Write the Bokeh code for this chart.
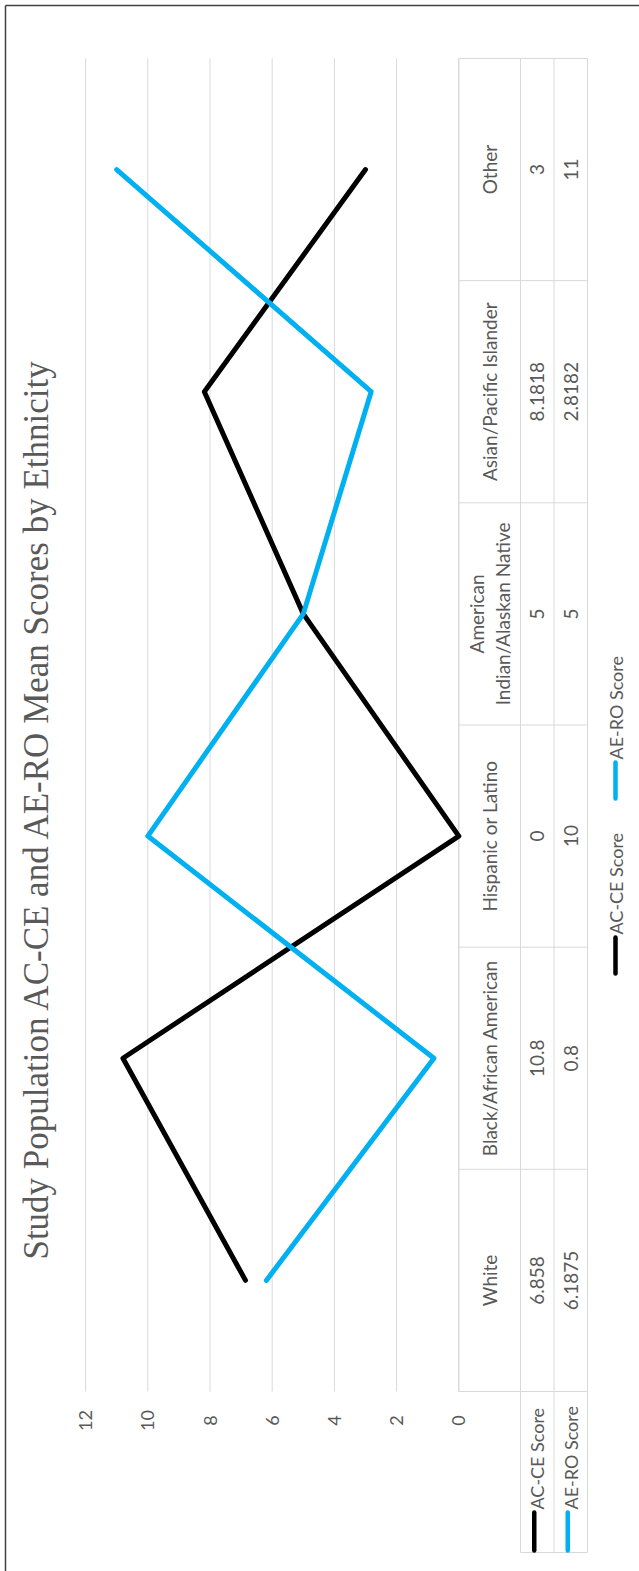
import math
from bokeh.plotting import figure
from bokeh.models import Range1d
from bokeh.core.properties import value
from bokeh.embed import file_html
from bokeh.resources import INLINE

# ---- data -------------------------------------------------------------
categories = ["White", "Black/African American", "Hispanic or Latino",
              "American Indian/Alaskan Native", "Asian/Pacific Islander", "Other"]
category_labels = ["White", "Black/African American", "Hispanic or Latino",
                   "American\nIndian/Alaskan Native", "Asian/Pacific Islander", "Other"]
ac_ce = [6.858, 10.8, 0, 5, 8.1818, 3]
ae_ro = [6.1875, 0.8, 10, 5, 2.8182, 11]
series_names = ["AC-CE Score", "AE-RO Score"]
tick_values = [0, 2, 4, 6, 8, 10, 12]
title_text = "Study Population AC-CE and AE-RO Mean Scores by Ethnicity"

# ---- styling ----------------------------------------------------------
W, H = 639, 1571
BLACK = "#000000"
BLUE = "#00b0f0"
GREY_TEXT = "#595959"
GRID = "#d9d9d9"
SANS = "Lato"
SERIF = "Liberation Serif"
UP = math.pi / 2  # text reads bottom-to-top

# value axis runs right-to-left (0 at px 458.3, 31.1 px per unit);
# categories run bottom-to-top (index 0 at px 1279.9, 222.17 px per step)
x0_px, x_unit = 458.3, 31.1
y0_px, y_unit = 1279.9, 222.17
x_range = Range1d((x0_px - 0) / x_unit, (x0_px - W) / x_unit)
y_range = Range1d((y0_px - H) / y_unit, y0_px / y_unit)

p = figure(width=W, height=H, x_range=x_range, y_range=y_range,
           output_backend="svg", toolbar_location=None, min_border=0,
           x_axis_location=None, y_axis_location=None)
p.outline_line_color = None
p.grid.visible = False
p.background_fill_color = "white"
p.border_fill_color = "white"
p.extra_x_ranges = {"px": Range1d(0, W)}
p.extra_y_ranges = {"px": Range1d(H, 0)}

n = len(categories)
idx = list(range(n))
top_i, bot_i = n - 0.5, -0.5

# outer frame (top and left edges)
p.segment(x0=[5, 5], y0=[5, 5], x1=[W, 5], y1=[5, H],
          x_range_name="px", y_range_name="px",
          line_color="#404040", line_width=1.5)

# value gridlines
p.segment(x0=tick_values, y0=[bot_i] * len(tick_values),
          x1=tick_values, y1=[top_i] * len(tick_values),
          line_color=GRID, line_width=1)

# tick labels under the gridlines
p.text(x=tick_values, y=[1420] * len(tick_values),
       text=[str(t) for t in tick_values], y_range_name="px",
       angle=UP, text_align="center", text_baseline="middle",
       text_font=value(SANS), text_font_size="18px", text_color=GREY_TEXT)

# data table: column dividers and row dividers
col_px = [458.3, 520, 553.5, 587]
p.segment(x0=col_px, y0=[bot_i] * 4, x1=col_px, y1=[top_i] * 4,
          x_range_name="px", line_color=GRID, line_width=1)
bounds = [i - 0.5 for i in range(n + 1)]
p.segment(x0=[col_px[0]] * len(bounds), y0=bounds,
          x1=[col_px[-1]] * len(bounds), y1=bounds,
          x_range_name="px", line_color=GRID, line_width=1)

# legend cells below the table
p.segment(x0=col_px[1:], y0=[1391] * 3, x1=col_px[1:], y1=[1552] * 3,
          x_range_name="px", y_range_name="px", line_color=GRID, line_width=1)
p.segment(x0=[col_px[1]], y0=[1552], x1=[col_px[-1]], y1=[1552],
          x_range_name="px", y_range_name="px", line_color=GRID, line_width=1)

# table texts
name_x = (col_px[0] + col_px[1]) / 2
p.text(x=[name_x] * n, y=idx, text=category_labels, x_range_name="px",
       angle=UP, text_align="center", text_baseline="middle",
       text_font=value(SANS), text_font_size="19px", text_color=GREY_TEXT,
       text_line_height=1.15)
for k, vals in enumerate([ac_ce, ae_ro]):
    cx = (col_px[k + 1] + col_px[k + 2]) / 2
    p.text(x=[cx] * n, y=idx, text=[f"{v:g}" for v in vals], x_range_name="px",
           angle=UP, text_align="center", text_baseline="middle",
           text_font=value(SANS), text_font_size="19px", text_color=GREY_TEXT)

# the two series
p.line(x=ac_ce, y=idx, line_color=BLACK, line_width=5,
       line_cap="round", line_join="round")
p.line(x=ae_ro, y=idx, line_color=BLUE, line_width=5,
       line_cap="round", line_join="round")

# legend keys inside the table
for k, (name, color) in enumerate(zip(series_names, [BLACK, BLUE])):
    cx = (col_px[k + 1] + col_px[k + 2]) / 2
    p.segment(x0=[cx - 3], y0=[1550], x1=[cx - 3], y1=[1512],
              x_range_name="px", y_range_name="px",
              line_color=color, line_width=4.5, line_cap="round")
    p.text(x=[cx], y=[1509], text=[name], x_range_name="px", y_range_name="px",
           angle=UP, text_align="left", text_baseline="middle",
           text_font=value(SANS), text_font_size="18px", text_color=GREY_TEXT)

# bottom legend
leg_x = 615
leg_starts = [975, 800]
for name, color, y_start in zip(series_names, [BLACK, BLUE], leg_starts):
    p.segment(x0=[leg_x], y0=[y_start - 2], x1=[leg_x], y1=[y_start - 38],
              x_range_name="px", y_range_name="px",
              line_color=color, line_width=4.5, line_cap="round")
    p.text(x=[leg_x], y=[y_start - 41], text=[name],
           x_range_name="px", y_range_name="px",
           angle=UP, text_align="left", text_baseline="middle",
           text_font=value(SANS), text_font_size="18px", text_color=GREY_TEXT)

# title
p.text(x=[36], y=[808], text=[title_text], x_range_name="px", y_range_name="px",
       angle=UP, text_align="center", text_baseline="alphabetic",
       text_font=value(SERIF), text_font_size="35px", text_color=GREY_TEXT)

open("out.html", "w").write(file_html(p, INLINE))
